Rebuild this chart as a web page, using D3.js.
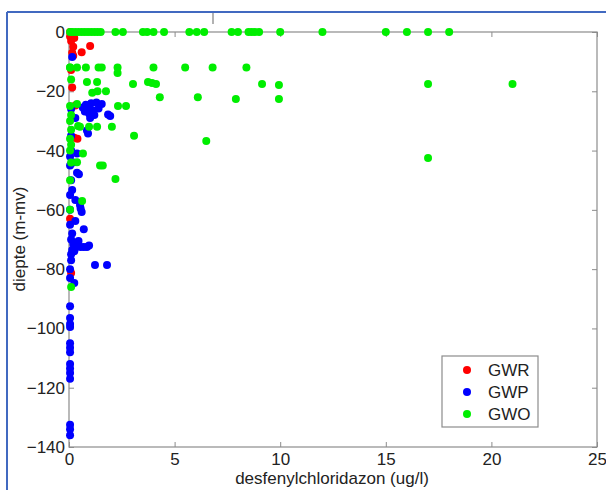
<!DOCTYPE html>
<html>
<head>
<meta charset="utf-8">
<script src="https://cdn.jsdelivr.net/npm/d3@7"></script>
<style>
  body { margin: 0; background: #fff; }
  text { font-family: "Liberation Sans", Arial, sans-serif; fill: #222; }
</style>
</head>
<body>
<div id="chart"></div>
<script>
var xTicks = [0, 5, 10, 15, 20, 25];
var yTicks = [0, -20, -40, -60, -80, -100, -120, -140];
var seriesNames = ["GWR", "GWP", "GWO"];
var seriesColors = ["#ff0000", "#0000ff", "#00ee00"];

// GWR (red)
var gwrX = [0.05, 0.1, 0.2, 0.15, 1.0, 0.6, 0.2, 0.1, 0.15, 0.3, 0.25, 0.4, 0.05, 0.1, 0.05, 0.25];
var gwrY = [0, -3, -5, -7, -4.7, -6.8, -8, -12.8, -18.7, -24.8, -35.7, -36, -63, -81.3, -1.5, -2];

// GWP (blue)
var gwpX = [0.15, 0.8, 1.05, 1.3, 1.55, 0.9, 1.15, 1.4, 0.95, 1.2, 0.75, 1.85, 1.95, 1.0, 0.65,
            0.1, 0.3, 0.1, 0.85, 0.9, 0.38, 0.1, 0.2, 0.47, 0.38, 0.1, 0.15, 0.3, 0.52, 0.6,
            0.55, 0.3, 0.7, 0.15, 0.1, 0.4, 0.55, 0.7, 0.85, 0.95, 0.3, 0.15, 0.1, 1.23, 1.8,
            0.1, 0.25, 0.05, 0.05, 0.05, 0.05, 0.05, 0.05, 0.05, 0.05, 0.05, 0.05, 0.05, 0.05,
            0.05, 0.05, 0.05, 0.05, 0.05, 0.05, 0.05, 0.05, 0.05, 0.2, 0.25, 0.45];
var gwpY = [-8.4, -24.5, -24, -23.8, -24.3, -26, -26.5, -25.8, -27.5, -28, -26.8, -27.8, -28.3, -29, -25.5,
            -26, -29, -35, -33.2, -34.2, -41, -40, -44, -48, -47.5, -50, -53.3, -56.7, -58.4, -60.7,
            -59.5, -63.8, -66.5, -68, -70, -71, -72.5, -72.5, -72.5, -72, -72.8, -73.5, -75, -78.6, -78.6,
            -77, -84.7, -92.5, -96.5, -98.5, -99.5, -105, -106.5, -108, -112, -113.5, -115, -117, -132.5,
            -134, -136, -42, -45, -55, -60, -65, -80, -83, -71.5, -74, -70.5];

// GWO (green)
var gwoX = [0.05, 0.15, 0.3, 0.45, 0.6, 0.75, 0.9, 1.05, 1.2, 1.35, 1.5, 2.2, 2.55, 3.5, 3.7, 4.0,
            4.5, 5.7, 6.05, 6.4, 7.7, 8.0, 8.5, 8.65, 8.8, 9.0, 10.0, 12.0, 15.0, 16.0, 17.0, 18.0,
            0.05, 0.38, 0.8, 1.4, 1.55, 2.3, 4.0, 5.5, 6.8, 8.4, 2.3,
            0.85, 1.33, 3.03, 3.74, 3.93, 4.12, 9.14, 9.94, 17.0, 21.0,
            4.3, 6.1, 7.9, 9.94, 1.1, 1.35, 1.75,
            2.32, 2.7, 0.38, 0.52, 0.95, 1.33, 2.03, 3.08, 6.5, 17.0,
            1.47, 1.6, 2.2, 0.62, 0.38, 0.66, 0.43,
            0.05, 0.1, 0.05, 0.1, 0.05, 0.1, 0.05, 0.1, 0.05, 0.1, 0.05, 0.05, 0.1];
var gwoY = [0, 0, 0, 0, 0, 0, 0, 0, 0, 0, 0, 0, 0, 0, 0, 0,
            0, 0, 0, 0, 0, 0, 0, 0, 0, 0, 0, 0, 0, 0, 0, 0,
            -12, -12, -12, -12, -12, -12, -12, -12, -12, -12, -13.8,
            -16.9, -16.9, -17.5, -16.9, -17.2, -17.5, -17.5, -17.9, -17.5, -17.5,
            -22, -22, -22.6, -22.6, -20.5, -20, -20,
            -25, -25, -24.3, -32, -32, -32, -32, -35, -36.8, -42.5,
            -45, -45, -49.6, -57, -43.9, -41, -31.7,
            -12, -16, -25, -28, -30, -33, -36, -38, -40, -44, -50, -60, -86];

var W = 606, H = 490;
var m = { left: 69, right: 597, top: 32, bottom: 447 };

var svg = d3.select("#chart").append("svg")
    .attr("width", W)
    .attr("height", H);

// outer blue frame
svg.append("line").attr("x1", 7).attr("y1", 12).attr("x2", W).attr("y2", 12)
    .attr("stroke", "#4169c0").attr("stroke-width", 2);
svg.append("line").attr("x1", 7).attr("y1", 12).attr("x2", 7).attr("y2", H)
    .attr("stroke", "#4169c0").attr("stroke-width", 2);
// stray grey tick above plot
svg.append("line").attr("x1", 213).attr("y1", 13).attr("x2", 213).attr("y2", 24)
    .attr("stroke", "#999").attr("stroke-width", 1.5);

var x = d3.scaleLinear().domain([0, 25]).range([m.left, m.right]);
var y = d3.scaleLinear().domain([-140, 0]).range([m.bottom, m.top]);

// box
svg.append("rect")
    .attr("x", m.left).attr("y", m.top)
    .attr("width", m.right - m.left).attr("height", m.bottom - m.top)
    .attr("fill", "none").attr("stroke", "#8c8c8c").attr("stroke-width", 1.2);

var tickLen = 5;
var axes = [
    { gen: d3.axisBottom(x).tickValues(xTicks), t: "translate(0," + m.bottom + ")", labels: true, pad: 6 },
    { gen: d3.axisTop(x).tickValues(xTicks), t: "translate(0," + m.top + ")", labels: false, pad: 6 },
    { gen: d3.axisLeft(y).tickValues(yTicks), t: "translate(" + m.left + ",0)", labels: true, pad: 4 },
    { gen: d3.axisRight(y).tickValues(yTicks), t: "translate(" + m.right + ",0)", labels: false, pad: 4 }
];
axes.forEach(function(a) {
    var g = svg.append("g").attr("transform", a.t)
        .call(a.gen.tickSizeInner(-tickLen).tickSizeOuter(0).tickPadding(a.pad));
    g.select(".domain").remove();
    g.selectAll(".tick line").attr("stroke", "#8c8c8c");
    if (a.labels) {
        g.selectAll(".tick text").attr("font-size", 17).attr("fill", "#222")
            .attr("font-family", "Liberation Sans, Arial, sans-serif");
    } else {
        g.selectAll(".tick text").remove();
    }
});

var series = [
    { name: "GWR", xs: gwrX, ys: gwrY },
    { name: "GWP", xs: gwpX, ys: gwpY },
    { name: "GWO", xs: gwoX, ys: gwoY }
];

series.forEach(function(s, i) {
    var pts = s.xs.map(function(v, k) { return [v, s.ys[k]]; });
    svg.append("g").selectAll("circle").data(pts).enter().append("circle")
        .attr("cx", function(d) { return x(d[0]); })
        .attr("cy", function(d) { return y(d[1]); })
        .attr("r", 4)
        .attr("fill", seriesColors[i]);
});

// axis titles
svg.append("text")
    .attr("x", 332).attr("y", 484)
    .attr("text-anchor", "middle").attr("font-size", 17)
    .text("desfenylchloridazon (ug/l)");
svg.append("text")
    .attr("transform", "translate(25,239) rotate(-90)")
    .attr("text-anchor", "middle").attr("font-size", 17)
    .text("diepte (m-mv)");

// legend
var lg = svg.append("g");
lg.append("rect").attr("x", 442).attr("y", 356).attr("width", 96).attr("height", 71)
    .attr("fill", "#fff").attr("stroke", "#8c8c8c").attr("stroke-width", 1.2);
seriesNames.forEach(function(n, i) {
    lg.append("circle").attr("cx", 467).attr("cy", 370 + i * 22).attr("r", 4)
        .attr("fill", seriesColors[i]);
    lg.append("text").attr("x", 488).attr("y", 370 + i * 22 + 6)
        .attr("font-size", 17).text(n);
});
</script>
</body>
</html>
